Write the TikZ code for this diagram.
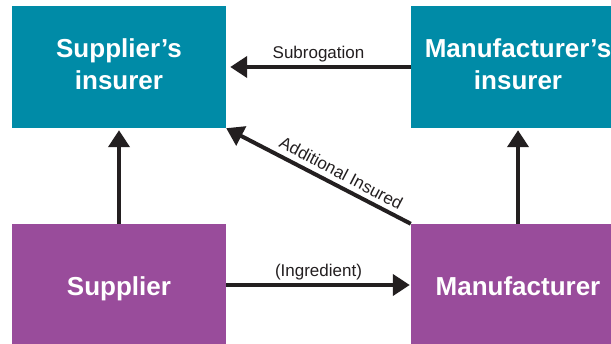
\documentclass[tikz,border=0pt]{standalone}
\usepackage{fontspec}
\setmainfont{Liberation Sans}
\usepackage{tikz}
\usetikzlibrary{arrows.meta,calc}

\definecolor{insurerteal}{RGB}{0,139,167}
\definecolor{partypurple}{RGB}{153,76,155}
\definecolor{arrowblack}{RGB}{35,31,32}

\begin{document}
\begin{tikzpicture}[x=1pt,y=1pt,yscale=-1,xscale=1,
    party/.style={fill=#1, text=white, minimum width=214pt, minimum height=122pt, inner sep=0pt,
        align=center, font=\bfseries\fontsize{26}{32}\selectfont},
    oneline/.style={text height=22pt, text depth=0pt},
    twoline/.style={text depth=6pt},
    flow/.style={draw=arrowblack, line width=4pt, -{Triangle[length=17pt,width=21pt]}},
    flowlabel/.style={text=arrowblack, font=\fontsize{17}{20}\selectfont}]
            \clip (0,0) rectangle (611,344);
            \fill[white] (0,0) rectangle (611,344);
            %Shape: Rectangle [id:supins]
            \node[party=insurerteal, twoline] (supins) at (119,67) {Supplier’s\\insurer};
            %Shape: Rectangle [id:manins]
            \node[party=insurerteal, twoline] (manins) at (518,67) {Manufacturer’s\\insurer};
            %Shape: Rectangle [id:sup]
            \node[party=partypurple, oneline] (sup) at (119,285) {Supplier};
            %Shape: Rectangle [id:man]
            \node[party=partypurple, oneline] (man) at (518,285) {Manufacturer};
            %Straight Lines [id:subrogation]
            \draw[flow, shorten >=4pt] (manins.west) -- (supins.east)
                node[midway, above, flowlabel] {Subrogation};
            %Straight Lines [id:ingredient]
            \draw[flow, shorten >=1pt] (sup.east) -- (man.west)
                node[midway, above, flowlabel] {(Ingredient)};
            %Straight Lines [id:additional]
            \draw[flow] (man.north west) -- (supins.south east)
                node[pos=0.41, anchor=south, rotate=-27.7, inner ysep=5pt, flowlabel] {Additional Insured};
            %Straight Lines [id:supup]
            \draw[flow, shorten >=2pt] (sup.north) -- (supins.south);
            %Straight Lines [id:manup]
            \draw[flow, shorten >=2pt] (man.north) -- (manins.south);
\end{tikzpicture}
\end{document}
